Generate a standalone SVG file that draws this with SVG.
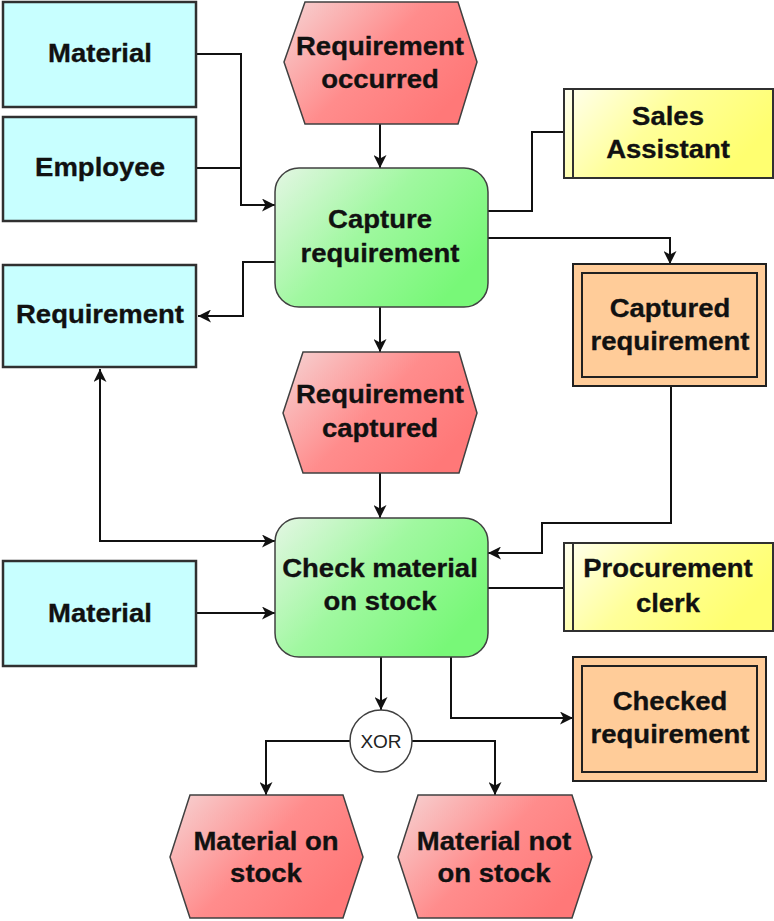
<svg xmlns="http://www.w3.org/2000/svg" width="774" height="921" viewBox="0 0 774 921">
  <style>
    .obj { fill: #c8ffff; stroke: #303030; stroke-width: 2.5; }
    .evt { fill: url(#gEvent); stroke: #404040; stroke-width: 1.5; }
    .fn { fill: url(#gFunc); stroke: #404040; stroke-width: 1.5; }
    .org { fill: url(#gOrg); stroke: #303030; stroke-width: 2; }
    .info { fill: #ffcc99; stroke: #202020; stroke-width: 2; }
    .info-in { fill: none; stroke: #202020; stroke-width: 2; }
    .op { fill: #ffffff; stroke: #404040; stroke-width: 1.5; }
    .t { font-family: "Liberation Sans", Arial, sans-serif; font-weight: bold; font-size: 25px; fill: #111; stroke: #111; stroke-width: 0.3; text-anchor: middle; }
    .x { font-family: "Liberation Sans", Arial, sans-serif; font-size: 19px; fill: #222; text-anchor: middle; }
    .edge { fill: none; stroke: #111; stroke-width: 2; }
  </style>
  <defs>
    <linearGradient id="gEvent" x1="0" y1="0" x2="1" y2="0.6">
      <stop offset="0" stop-color="#f6d4d4"/>
      <stop offset="0.55" stop-color="#ff8c8c"/>
      <stop offset="1" stop-color="#ff7878"/>
    </linearGradient>
    <linearGradient id="gFunc" x1="0" y1="0" x2="1" y2="0.6">
      <stop offset="0" stop-color="#e4f6e4"/>
      <stop offset="0.5" stop-color="#a0f8a0"/>
      <stop offset="1" stop-color="#78f878"/>
    </linearGradient>
    <linearGradient id="gOrg" x1="0" y1="0" x2="1" y2="0.4">
      <stop offset="0" stop-color="#fffff0"/>
      <stop offset="0.5" stop-color="#ffff9a"/>
      <stop offset="1" stop-color="#ffff70"/>
    </linearGradient>
    <marker id="arr" viewBox="0 0 13 13" refX="13" refY="6.5" markerWidth="13" markerHeight="13" markerUnits="userSpaceOnUse" orient="auto-start-reverse">
      <path d="M0,0 L13,6.5 L0,13 L3.5,6.5 Z" fill="#111"/>
    </marker>
  </defs>

  <!-- connectors -->
  <g id="connectors">
    <path class="edge" d="M196,54 H241 V205 H275" marker-end="url(#arr)"/>
    <path class="edge" d="M196,168 H241"/>
    <path class="edge" d="M380,124 V168" marker-end="url(#arr)"/>
    <path class="edge" d="M488,211 H532 V132 H564"/>
    <path class="edge" d="M488,238 H670 V264" marker-end="url(#arr)"/>
    <path class="edge" d="M275,262 H243 V316 H198" marker-end="url(#arr)"/>
    <path class="edge" d="M380,307 V352" marker-end="url(#arr)"/>
    <path class="edge" d="M380,473 V518" marker-end="url(#arr)"/>
    <path class="edge" d="M100,369 V541 H275" marker-start="url(#arr)" marker-end="url(#arr)"/>
    <path class="edge" d="M671,386 V523 H542 V553 H488" marker-end="url(#arr)"/>
    <path class="edge" d="M196,613 H275" marker-end="url(#arr)"/>
    <path class="edge" d="M488,588 H564"/>
    <path class="edge" d="M451,657 V718 H573" marker-end="url(#arr)"/>
    <path class="edge" d="M381,657 V710" marker-end="url(#arr)"/>
    <path class="edge" d="M350,741 H266 V795" marker-end="url(#arr)"/>
    <path class="edge" d="M412,741 H495 V795" marker-end="url(#arr)"/>
  </g>

  <g id="material-1">
    <rect class="obj" x="3" y="2" width="193" height="105"/>
    <text class="t" transform="translate(100 62) scale(1.1 1)">Material</text>
  </g>
  <g id="employee">
    <rect class="obj" x="3" y="117" width="193" height="104"/>
    <text class="t" transform="translate(100 176) scale(1.1 1)">Employee</text>
  </g>
  <g id="requirement-occurred">
    <polygon class="evt" points="305,2 458,2 477,62 458,124 305,124 284,62"/>
    <text class="t" transform="translate(380 55) scale(1.1 1)">Requirement</text>
    <text class="t" transform="translate(380 88) scale(1.1 1)">occurred</text>
  </g>
  <g id="capture-requirement">
    <rect class="fn" x="275" y="168" width="213" height="139" rx="24"/>
    <text class="t" transform="translate(380 228) scale(1.1 1)">Capture</text>
    <text class="t" transform="translate(380 262) scale(1.1 1)">requirement</text>
  </g>
  <g id="sales-assistant">
    <rect class="org" x="564" y="89" width="209" height="89"/>
    <line x1="573" y1="89" x2="573" y2="178" stroke="#303030" stroke-width="2"/>
    <text class="t" transform="translate(668 125) scale(1.1 1)">Sales</text>
    <text class="t" transform="translate(668 158) scale(1.1 1)">Assistant</text>
  </g>
  <g id="captured-requirement">
    <rect class="info" x="573" y="264" width="193" height="122"/>
    <rect class="info-in" x="582" y="273" width="175" height="104"/>
    <text class="t" transform="translate(670 317) scale(1.1 1)">Captured</text>
    <text class="t" transform="translate(670 350) scale(1.1 1)">requirement</text>
  </g>
  <g id="requirement">
    <rect class="obj" x="3" y="265" width="193" height="102"/>
    <text class="t" transform="translate(100 323) scale(1.1 1)">Requirement</text>
  </g>
  <g id="requirement-captured">
    <polygon class="evt" points="303,352 459,352 477,413 459,473 303,473 283,413"/>
    <text class="t" transform="translate(380 403) scale(1.1 1)">Requirement</text>
    <text class="t" transform="translate(380 437) scale(1.1 1)">captured</text>
  </g>
  <g id="check-material">
    <rect class="fn" x="275" y="518" width="213" height="139" rx="24"/>
    <text class="t" transform="translate(380 577) scale(1.1 1)">Check material</text>
    <text class="t" transform="translate(380 610) scale(1.1 1)">on stock</text>
  </g>
  <g id="material-2">
    <rect class="obj" x="3" y="561" width="193" height="105"/>
    <text class="t" transform="translate(100 622) scale(1.1 1)">Material</text>
  </g>
  <g id="procurement-clerk">
    <rect class="org" x="564" y="543" width="209" height="88"/>
    <line x1="573" y1="543" x2="573" y2="631" stroke="#303030" stroke-width="2"/>
    <text class="t" transform="translate(668 577) scale(1.1 1)">Procurement</text>
    <text class="t" transform="translate(668 612) scale(1.1 1)">clerk</text>
  </g>
  <g id="checked-requirement">
    <rect class="info" x="573" y="657" width="193" height="124"/>
    <rect class="info-in" x="582" y="666" width="175" height="106"/>
    <text class="t" transform="translate(670 710) scale(1.1 1)">Checked</text>
    <text class="t" transform="translate(670 743) scale(1.1 1)">requirement</text>
  </g>
  <g id="xor">
    <circle class="op" cx="381" cy="741" r="31"/>
    <text class="x" x="381" y="748">XOR</text>
  </g>
  <g id="material-on-stock">
    <polygon class="evt" points="190,795 343,795 363,857 343,918 190,918 170,857"/>
    <text class="t" transform="translate(266 850) scale(1.1 1)">Material on</text>
    <text class="t" transform="translate(266 882) scale(1.1 1)">stock</text>
  </g>
  <g id="material-not-on-stock">
    <polygon class="evt" points="418,795 572,795 592,857 572,918 418,918 398,857"/>
    <text class="t" transform="translate(494 850) scale(1.1 1)">Material not</text>
    <text class="t" transform="translate(494 882) scale(1.1 1)">on stock</text>
  </g>
</svg>
